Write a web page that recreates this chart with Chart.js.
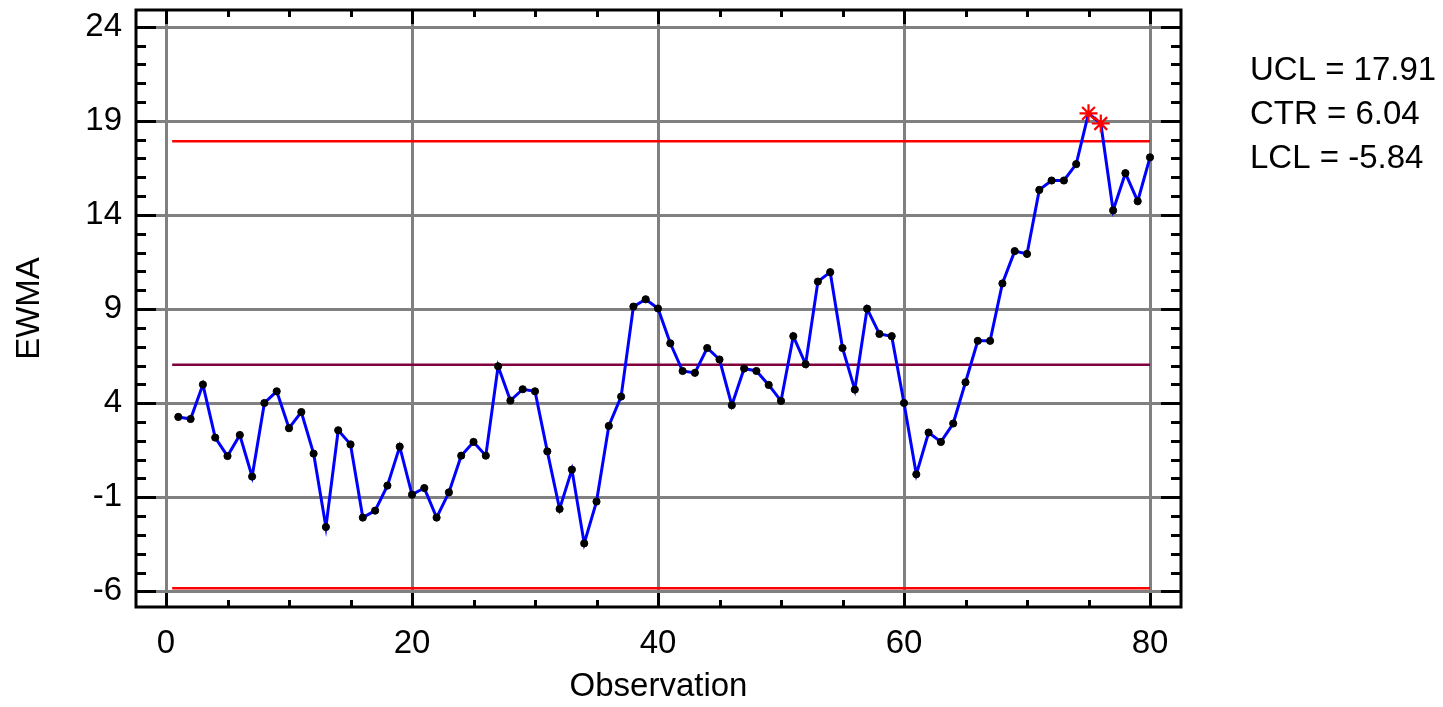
<!DOCTYPE html>
<html>
<head>
<meta charset="utf-8">
<script src="https://cdn.jsdelivr.net/npm/chart.js@4.4.1/dist/chart.umd.min.js"></script>
<style>
  html, body { margin: 0; padding: 0; background: #fff; overflow: hidden; }
  canvas { display: block; }
</style>
</head>
<body>
<canvas id="ewmaChart" width="1443" height="707"></canvas>
<script>
// EWMA control chart data
const observations = [
  1, 2, 3, 4, 5, 6, 7, 8, 9, 10, 11, 12, 13, 14, 15, 16, 17, 18, 19, 20,
  21, 22, 23, 24, 25, 26, 27, 28, 29, 30, 31, 32, 33, 34, 35, 36, 37, 38, 39, 40,
  41, 42, 43, 44, 45, 46, 47, 48, 49, 50, 51, 52, 53, 54, 55, 56, 57, 58, 59, 60,
  61, 62, 63, 64, 65, 66, 67, 68, 69, 70, 71, 72, 73, 74, 75, 76, 77, 78, 79, 80
];
const ewma = [
  3.27, 3.16, 4.99, 2.17, 1.19, 2.31, 0.10, 4.01, 4.63, 2.67,
  3.53, 1.32, -2.58, 2.56, 1.81, -2.08, -1.71, -0.38, 1.69, -0.86,
  -0.51, -2.08, -0.74, 1.21, 1.94, 1.21, 5.96, 4.14, 4.74, 4.63,
  1.44, -1.62, 0.47, -3.45, -1.23, 2.79, 4.35, 9.13, 9.52, 9.03,
  7.18, 5.71, 5.61, 6.93, 6.32, 3.89, 5.84, 5.71, 4.97, 4.12,
  7.56, 6.07, 10.46, 10.96, 6.93, 4.72, 9.02, 7.68, 7.56, 4.01,
  0.22, 2.44, 1.94, 2.92, 5.11, 7.31, 7.31, 10.36, 12.08, 11.93,
  15.33, 15.83, 15.83, 16.70, 19.40, 18.86, 14.24, 16.22, 14.73, 17.06
];
const UCL = 17.91;
const CTR = 6.04;
const LCL = -5.84;
const limitSpan = [0.5, 80];          // observation range covered by the limit lines
const xTicks = [0, 20, 40, 60, 80];
const yTicks = [-6, -1, 4, 9, 14, 19, 24];
const xRange = [-2.44, 82.52];
const yRange = [-6.83, 24.89];

const FONT = { family: "'Liberation Sans', Arial, sans-serif", size: 33 };

const limitLine = (v) => limitSpan.map(x => ({ x: x, y: v }));
const outOfControl = c => !!(c.raw && (c.raw.y > UCL || c.raw.y < LCL));

// Grid, boxed frame with inward tick marks, and the limit summary text
const framePlugin = {
  id: 'frame',
  beforeDatasetsDraw(chart) {
    const { ctx, chartArea: a, scales: { x, y } } = chart;
    ctx.save();
    ctx.strokeStyle = '#808080';
    ctx.lineWidth = 3;
    ctx.beginPath();
    xTicks.forEach(v => {
      const px = Math.round(x.getPixelForValue(v)) + 0.5;
      ctx.moveTo(px, a.top); ctx.lineTo(px, a.bottom);
    });
    yTicks.forEach(v => {
      const py = Math.round(y.getPixelForValue(v)) + 0.5;
      ctx.moveTo(a.left, py); ctx.lineTo(a.right, py);
    });
    ctx.stroke();
    ctx.restore();
  },
  afterDatasetsDraw(chart) {
    const { ctx, chartArea: a, scales: { x, y } } = chart;
    ctx.save();
    ctx.strokeStyle = '#000';
    // horizontal-axis tick marks every 5 observations, long at labelled values
    for (let v = 0; v <= 80; v += 5) {
      const px = Math.round(x.getPixelForValue(v)) + 0.5;
      const major = xTicks.includes(v);
      const len = major ? 14 : 7;
      ctx.lineWidth = 3;
      ctx.beginPath();
      ctx.moveTo(px, a.top); ctx.lineTo(px, a.top + len);
      ctx.moveTo(px, a.bottom); ctx.lineTo(px, a.bottom - len);
      ctx.stroke();
    }
    // vertical-axis tick marks every unit
    for (let v = -6; v <= 24; v += 1) {
      const py = Math.round(y.getPixelForValue(v)) + 0.5;
      const major = yTicks.includes(v);
      const len = major ? 20 : 10;
      ctx.lineWidth = 3;
      ctx.beginPath();
      ctx.moveTo(a.left, py); ctx.lineTo(a.left + len, py);
      ctx.moveTo(a.right, py); ctx.lineTo(a.right - len, py);
      ctx.stroke();
    }
    ctx.lineWidth = 3;
    ctx.strokeRect(a.left, a.top, a.right - a.left, a.bottom - a.top);

    // limit summary
    ctx.fillStyle = '#000';
    ctx.font = `${FONT.size}px ${FONT.family}`;
    ctx.textAlign = 'left';
    ctx.textBaseline = 'middle';
    const lines = [
      `UCL = ${UCL.toFixed(2)}`,
      `CTR = ${CTR.toFixed(2)}`,
      `LCL = ${LCL.toFixed(2)}`
    ];
    lines.forEach((t, i) => ctx.fillText(t, 1250, 71 + i * 44));
    ctx.restore();
  }
};

new Chart(document.getElementById('ewmaChart'), {
  type: 'line',
  data: {
    datasets: [
      {
        label: 'EWMA',
        data: observations.map((o, i) => ({ x: o, y: ewma[i] })),
        borderColor: '#0000ff',
        borderWidth: 3,
        tension: 0,
        pointStyle: c => (outOfControl(c) ? 'star' : 'circle'),
        pointRadius: c => (outOfControl(c) ? 9 : 3.6),
        pointBorderWidth: c => (outOfControl(c) ? 2.2 : 1),
        pointBackgroundColor: c => (outOfControl(c) ? '#ff0000' : '#000'),
        pointBorderColor: c => (outOfControl(c) ? '#ff0000' : '#000'),
        order: 0
      },
      {
        label: 'UCL',
        data: limitLine(UCL),
        borderColor: '#ff0000',
        borderWidth: 2.5,
        pointRadius: 0,
        order: 1
      },
      {
        label: 'CTR',
        data: limitLine(CTR),
        borderColor: '#80003c',
        borderWidth: 2.5,
        pointRadius: 0,
        order: 1
      },
      {
        label: 'LCL',
        data: limitLine(LCL),
        borderColor: '#ff0000',
        borderWidth: 2.5,
        pointRadius: 0,
        order: 1
      }
    ]
  },
  options: {
    responsive: false,
    animation: false,
    devicePixelRatio: 1,
    layout: { padding: { left: 0, top: 10, right: 262, bottom: 0 } },
    plugins: {
      legend: { display: false },
      tooltip: { enabled: false }
    },
    scales: {
      x: {
        type: 'linear',
        position: 'bottom',
        min: xRange[0],
        max: xRange[1],
        afterBuildTicks: s => { s.ticks = xTicks.map(v => ({ value: v })); },
        afterFit: s => { s.height = 100; s.paddingLeft = 0; s.paddingRight = 0; },
        grid: { display: false, drawTicks: false },
        border: { display: false },
        ticks: { font: FONT, color: '#000', padding: 17, maxRotation: 0, autoSkip: false },
        title: { display: true, text: 'Observation', font: FONT, color: '#000', padding: { top: 0, bottom: 0 } }
      },
      y: {
        type: 'linear',
        position: 'left',
        min: yRange[0],
        max: yRange[1],
        afterBuildTicks: s => { s.ticks = yTicks.map(v => ({ value: v })); },
        afterFit: s => { s.width = 136; s.paddingTop = 0; s.paddingBottom = 0; },
        grid: { display: false, drawTicks: false },
        border: { display: false },
        ticks: { font: FONT, color: '#000', padding: 14, autoSkip: false },
        title: { display: true, text: 'EWMA', font: FONT, color: '#000', padding: { top: 10, bottom: 0 } }
      }
    }
  },
  plugins: [framePlugin]
});
</script>
</body>
</html>
